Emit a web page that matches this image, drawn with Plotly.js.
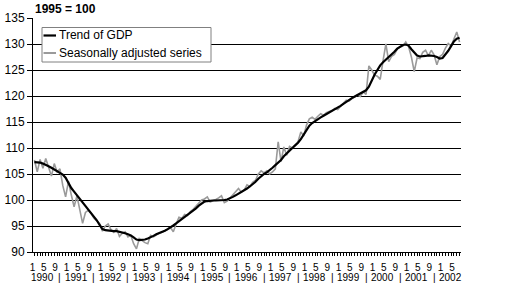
<!DOCTYPE html>
<html>
<head>
<meta charset="utf-8">
<script src="https://cdn.plot.ly/plotly-3.0.1.min.js"></script>
<style>
  html, body { margin: 0; padding: 0; background: #ffffff; }
  #chart { width: 526px; height: 283px; }
</style>
</head>
<body>
<div id="chart"></div>
<script>
// ---- Data (monthly, Jan 1990 - Jul 2002), index 1995 = 100 ----
const yearLabels = ['1990','1991','1992','1993','1994','1995','1996','1997','1998','1999','2000','2001','2002'];
const monthTickLabels = ['1', '5', '9'];
const monthTickNumbers = [1, 5, 9];

const trendOfGDP = [
  107.3,107.3,107.2,107.0,106.8,106.5,106.2,105.9,105.6,105.3,104.9,104.3,
  103.3,102.3,101.6,100.9,100.2,99.6,99.0,98.3,97.6,96.9,96.1,95.2,
  94.4,94.2,94.1,94.1,94.0,94.0,93.9,93.8,93.6,93.4,93.2,92.8,
  92.4,92.3,92.3,92.4,92.6,92.8,93.1,93.4,93.6,93.9,94.1,94.4,
  94.7,95.1,95.5,95.9,96.3,96.7,97.1,97.5,97.9,98.4,98.9,99.3,
  99.7,99.8,99.9,99.9,99.9,99.9,99.9,100.0,100.1,100.3,100.6,100.9,
  101.2,101.5,101.8,102.2,102.6,103.0,103.5,104.1,104.6,105.0,105.3,105.7,
  106.2,106.7,107.2,107.7,108.4,109.0,109.5,110.0,110.5,111.0,111.7,112.6,
  113.5,114.3,114.8,115.2,115.6,115.9,116.2,116.5,116.8,117.1,117.4,117.7,
  118.1,118.5,118.9,119.3,119.6,119.9,120.2,120.4,120.7,121.1,121.8,123.0,
  124.1,125.0,125.9,126.5,127.0,127.4,127.9,128.5,129.1,129.5,129.8,129.9,
  129.7,129.0,128.3,127.8,127.6,127.6,127.7,127.8,127.8,127.7,127.5,127.2,
  127.3,127.9,128.7,129.6,130.5,131.0,131.2
];

const seasonallyAdjusted = [
  107.7,105.4,107.8,106.1,108.0,106.4,104.6,107.0,105.4,106.0,102.8,100.6,
  103.6,101.0,98.7,100.8,98.0,95.5,97.6,98.0,97.4,96.5,96.0,95.5,
  94.0,95.0,95.4,94.3,93.8,94.5,93.0,93.6,93.9,92.9,93.2,91.6,
  90.6,92.6,92.2,91.8,91.6,93.2,92.9,93.3,93.6,93.8,94.0,94.3,
  94.7,93.9,95.4,96.7,96.5,97.2,97.0,97.8,98.2,98.8,99.2,100.0,
  100.2,100.6,99.6,99.8,100.1,100.4,100.8,99.5,99.8,100.4,101.0,101.6,
  102.2,101.5,101.9,102.9,102.6,103.4,103.8,105.0,105.6,105.2,105.6,105.0,
  105.4,106.0,111.2,107.4,110.2,108.6,110.3,110.0,110.6,111.2,113.1,112.3,
  114.4,115.6,115.9,115.5,116.1,116.6,116.3,116.8,117.0,117.2,117.6,117.4,
  118.0,118.6,119.2,119.0,119.5,119.8,120.2,119.9,120.8,120.3,125.8,125.0,
  124.0,123.8,123.2,126.8,130.0,126.6,127.6,128.0,129.0,129.4,129.6,130.4,
  129.5,127.5,124.7,127.3,127.2,128.4,128.8,127.7,128.8,127.9,126.0,127.6,
  128.0,129.2,130.1,129.6,131.1,132.3,130.4
];

const seriesNames = ['Trend of GDP', 'Seasonally adjusted series'];
const titleText = '1995 = 100';

// ---- Build chart ----
const n = trendOfGDP.length;
const xIdx = trendOfGDP.map((_, i) => i);

const tickvals = xIdx;
const ticktext = xIdx.map(i => {
  const mo = (i % 12) + 1;
  const k = monthTickNumbers.indexOf(mo);
  return k >= 0 ? monthTickLabels[k] : '';
});

const FONT = 'Arial, "Liberation Sans", sans-serif';
const GREY = '#9a9a9a';

const traces = [
  { x: xIdx, y: seasonallyAdjusted, type: 'scatter', mode: 'lines',
    name: seriesNames[1], line: { color: GREY, width: 1.6 }, showlegend: false, hoverinfo: 'skip' },
  { x: xIdx, y: trendOfGDP, type: 'scatter', mode: 'lines',
    name: seriesNames[0], line: { color: '#000000', width: 2.2 }, showlegend: false, hoverinfo: 'skip' }
];

const annotations = [];
yearLabels.forEach((yr, k) => {
  annotations.push({ xref: 'x', yref: 'paper', x: 12 * k + 2.7, y: -0.11,
    text: yr, showarrow: false, xanchor: 'center', yanchor: 'middle',
    font: { family: FONT, size: 10, color: '#000' } });
  if (k > 0) {
    annotations.push({ xref: 'x', yref: 'paper', x: 12 * k - 3, y: -0.11,
      text: '|', showarrow: false, xanchor: 'center', yanchor: 'middle',
      font: { family: FONT, size: 10, color: '#000' } });
  }
});

// title
annotations.push({ xref: 'paper', yref: 'paper', x: 0, y: 1.0385,
  text: '<b>' + titleText + '</b>', showarrow: false, xanchor: 'left', yanchor: 'middle',
  font: { family: FONT, size: 12, color: '#000' } });

// manual legend (text)
const PW = 428, PH = 234;
const px = v => (v - 33) / PW;
const py = v => (252 - v) / PH;
annotations.push({ xref: 'paper', yref: 'paper', x: px(57), y: py(35.5),
  text: seriesNames[0], showarrow: false, xanchor: 'left', yanchor: 'middle',
  font: { family: FONT, size: 12, color: '#000' } });
annotations.push({ xref: 'paper', yref: 'paper', x: px(57), y: py(53),
  text: seriesNames[1], showarrow: false, xanchor: 'left', yanchor: 'middle',
  font: { family: FONT, size: 12, color: '#000' } });

const shapes = [
  { type: 'rect', xref: 'paper', yref: 'paper', x0: px(42), x1: px(211), y0: py(62), y1: py(27.5),
    line: { color: '#808080', width: 1 }, fillcolor: '#ffffff', layer: 'above' },
  { type: 'line', xref: 'paper', yref: 'paper', x0: px(43.5), x1: px(56), y0: py(35.5), y1: py(35.5),
    line: { color: '#000000', width: 2.2 }, layer: 'above' },
  { type: 'line', xref: 'paper', yref: 'paper', x0: px(43.5), x1: px(56), y0: py(53), y1: py(53),
    line: { color: GREY, width: 2 }, layer: 'above' }
];

const layout = {
  width: 526, height: 283,
  margin: { l: 33, r: 65, t: 18, b: 31, pad: 0 },
  paper_bgcolor: '#ffffff', plot_bgcolor: '#ffffff',
  font: { family: FONT, size: 12, color: '#000' },
  showlegend: false,
  xaxis: {
    type: 'linear', range: [-0.5, n - 0.5], fixedrange: true,
    tickmode: 'array', tickvals: tickvals, ticktext: ticktext,
    ticks: 'outside', ticklen: 3, tickwidth: 1, tickcolor: '#000',
    tickfont: { family: FONT, size: 10, color: '#000' },
    ticklabelstandoff: 3, ticklabelshift: -2,
    showgrid: false, zeroline: false,
    showline: true, linecolor: '#000', linewidth: 1
  },
  yaxis: {
    range: [90, 135], dtick: 5, tick0: 90, fixedrange: true,
    ticks: 'outside', ticklen: 5, tickwidth: 1, tickcolor: '#000',
    tickfont: { family: FONT, size: 12, color: '#000' },
    showgrid: true, gridcolor: '#000', gridwidth: 1,
    zeroline: false, showline: true, linecolor: '#000', linewidth: 1
  },
  annotations: annotations,
  shapes: shapes
};

Plotly.newPlot('chart', traces, layout, { staticPlot: true, displayModeBar: false });
</script>
</body>
</html>
